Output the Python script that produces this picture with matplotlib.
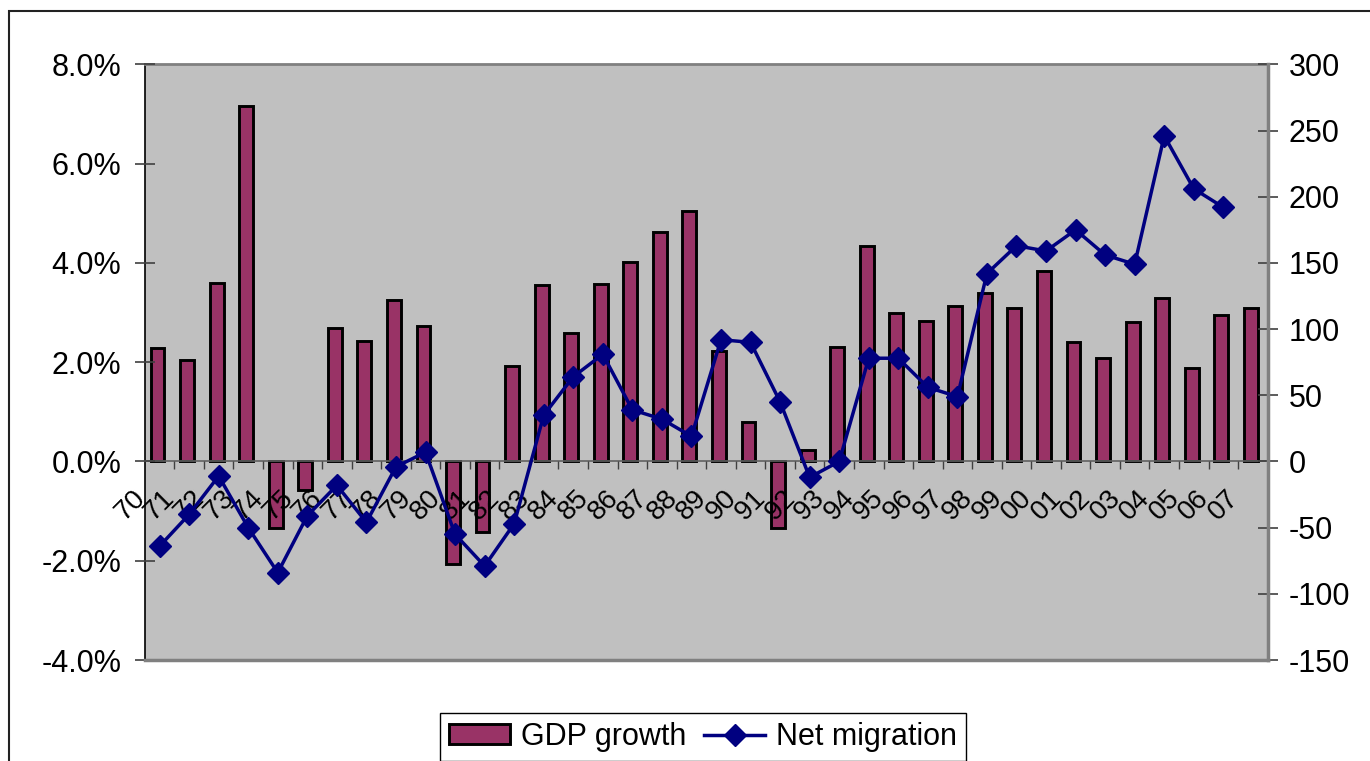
import numpy as np
import matplotlib.pyplot as plt
import matplotlib.transforms as mtransforms
from matplotlib.patches import Rectangle
from matplotlib.ticker import FuncFormatter, MultipleLocator

plt.rcParams['font.family'] = ['Liberation Sans', 'DejaVu Sans']
plt.rcParams['axes.unicode_minus'] = False

# Data
years = ['70', '71', '72', '73', '74', '75', '76', '77', '78', '79',
         '80', '81', '82', '83', '84', '85', '86', '87', '88', '89',
         '90', '91', '92', '93', '94', '95', '96', '97', '98', '99',
         '00', '01', '02', '03', '04', '05', '06', '07']

# GDP growth in percent
gdp_growth = [2.28, 2.05, 3.60, 7.16, -1.34, -0.58, 2.68, 2.43, 3.26, 2.72,
              -2.06, -1.42, 1.93, 3.56, 2.59, 3.57, 4.01, 4.62, 5.04, 2.23,
              0.80, -1.34, 0.24, 2.30, 4.35, 2.99, 2.83, 3.13, 3.39, 3.09,
              3.83, 2.40, 2.09, 2.80, 3.29, 1.88, 2.96, 3.09]

# Net migration (no value for 07)
net_migration = [-64, -40, -11, -50, -84, -41, -18, -46, -4, 7,
                 -55, -79, -47, 35, 64, 81, 39, 32, 19, 92,
                 90, 45, -12, 0, 78, 78, 56, 49, 142, 163,
                 159, 175, 156, 149, 246, 206, 192]

bar_color = '#993366'
line_color = '#000080'
frame_gray = '#808080'

fig = plt.figure(figsize=(13.7, 7.61), dpi=100)
ax = fig.add_axes([0.1057, 0.1327, 0.8196, 0.7827])
ax.set_facecolor('#C0C0C0')
ax.set_axisbelow(False)

x = np.arange(len(years))
ax.bar(x - 0.07, gdp_growth, width=0.47, color=bar_color,
       edgecolor='black', linewidth=2.1, zorder=1, label='GDP growth')

ax.set_xlim(-0.5, len(years) - 0.5)
ax.set_ylim(-4, 8)
ax.yaxis.set_major_locator(MultipleLocator(2))
ax.yaxis.set_major_formatter(FuncFormatter(lambda v, p: f'{v:.1f}%'))

# x axis sits on the zero line
ax.spines['bottom'].set_position(('data', 0))
ax.spines['bottom'].set_color('#606060')
ax.spines['bottom'].set_linewidth(1.2)
ax.spines['left'].set_color('black')
ax.spines['left'].set_linewidth(1.2)
ax.spines['top'].set_color(frame_gray)
ax.spines['top'].set_linewidth(2)
ax.spines['right'].set_visible(False)

ax.set_xticks(x)
ax.set_xticklabels(years, rotation=45, ha='right', va='top', fontsize=20)
ax.set_xticks(x[:-1] + 0.5, minor=True)
ax.tick_params(axis='x', which='major', length=0, pad=17)
ax.tick_params(axis='x', which='minor', length=6, width=1, color='#404040',
               direction='out')
shift = mtransforms.ScaledTranslation(-9 / 100, 0, fig.dpi_scale_trans)
for lab in ax.get_xticklabels():
    lab.set_transform(lab.get_transform() + shift)

ax.tick_params(axis='y', direction='inout', length=14, width=1.2,
               color='#404040', labelsize=22, pad=10)

# Secondary axis for migration
ax2 = ax.twinx()
ax2.plot(x[:len(net_migration)], net_migration, color=line_color,
         linewidth=2.5, marker='D', markersize=11.5, zorder=5,
         label='Net migration')
ax2.set_ylim(-150, 300)
ax2.yaxis.set_major_locator(MultipleLocator(50))
ax2.tick_params(axis='y', direction='inout', length=14, width=1.2,
                color='#404040', labelsize=22, pad=8)
for side in ['top', 'left']:
    ax2.spines[side].set_visible(False)
ax2.spines['right'].set_color(frame_gray)
ax2.spines['right'].set_linewidth(2.5)
ax2.spines['bottom'].set_color(frame_gray)
ax2.spines['bottom'].set_linewidth(2.5)

# Legend
h1, l1 = ax.get_legend_handles_labels()
h2, l2 = ax2.get_legend_handles_labels()
leg = fig.legend(h1 + h2, l1 + l2, loc='center',
                 bbox_to_anchor=(703 / 1370, 1 - 737 / 761), ncol=2,
                 fontsize=22, frameon=True, fancybox=False, framealpha=1,
                 edgecolor='black', handlelength=2.0, handleheight=0.62,
                 handletextpad=0.35, columnspacing=0.6, borderpad=0.3,
                 borderaxespad=0)
leg.get_frame().set_linewidth(1.0)

# Outer chart border
fig.add_artist(Rectangle((9 / 1370, -0.1), 1.2, 1 - 11 / 761 + 0.1,
                         transform=fig.transFigure, fill=False,
                         edgecolor='#222222', linewidth=1.5))

fig.savefig('out.png', dpi=100)
